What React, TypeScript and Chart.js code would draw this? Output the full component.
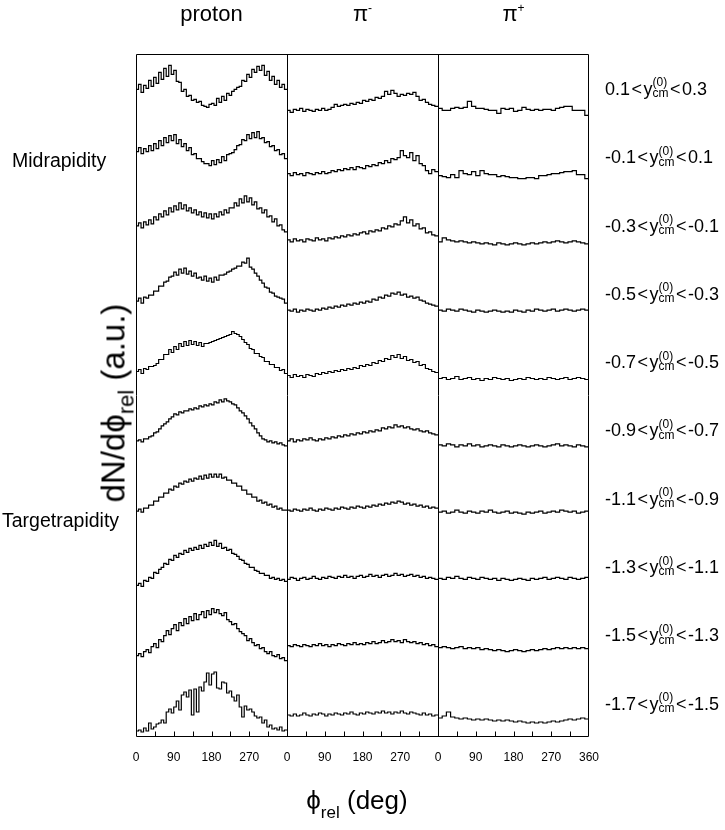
import React, { useEffect, useRef } from "react";
import { Chart, registerables } from "chart.js";

Chart.register(...registerables);

const FONT = '"Liberation Sans", Arial, Helvetica, sans-serif';

// ---------- labels ----------
const PANEL_TITLES = [
  { base: "proton", sup: "" },
  { base: "π", sup: "-" },
  { base: "π", sup: "+" },
];
const Y_LO = ["0.1", "-0.1", "-0.3", "-0.5", "-0.7", "-0.9", "-1.1", "-1.3", "-1.5", "-1.7"];
const Y_HI = ["0.3", "0.1", "-0.1", "-0.3", "-0.5", "-0.7", "-0.9", "-1.1", "-1.3", "-1.5"];
const PANEL_SPAN = 360; // degrees per panel
const X_TICK_STEP = 90;
const X_MINOR_STEP = 45;

// ---------- data: dN/dphi (a.u.), one list per rapidity bin (top to bottom) ----------
const PROTON_ROWS = [
  [33,38,30,37,34,42,36,45,39,50,43,54,46,57,48,52,41,40,31,33,26,27,22,23,20,21,17,16,15,18,19,17,24,20,26,22,29,27,31,33,35,36,42,41,48,45,53,50,56,52,57,47,51,42,46,38,42,35,38,33],
  [39,43,37,42,39,45,40,47,42,50,45,53,48,55,50,56,47,51,44,47,40,43,36,37,32,32,29,27,27,25,30,26,31,28,34,30,36,37,38,41,45,46,51,50,56,52,58,53,59,52,53,48,49,44,45,40,41,36,37,32],
  [33,36,31,37,34,39,35,42,39,45,42,48,44,51,47,53,49,56,50,54,48,51,46,49,44,47,42,46,41,45,40,45,42,47,44,49,46,51,51,56,53,60,56,63,57,61,54,57,50,51,46,49,42,43,37,40,33,34,29,27],
  [26,29,24,30,29,32,32,36,36,41,41,45,46,50,51,55,52,58,54,59,53,56,51,54,49,50,47,51,46,49,45,50,47,52,52,53,55,56,58,59,61,61,65,64,69,60,58,54,51,47,44,40,39,35,34,31,30,29,28,24],
  [24,26,22,27,26,29,29,30,32,36,36,41,41,46,43,49,46,52,49,54,50,55,51,54,50,53,49,52,52,53,54,55,56,57,58,59,60,61,64,62,61,59,56,53,51,47,46,42,42,39,38,34,34,31,31,28,28,25,26,22],
  [23,24,22,25,25,27,28,31,32,35,38,40,42,45,47,50,49,52,51,53,53,55,54,56,55,58,57,59,58,60,59,62,61,64,62,65,63,62,60,59,56,53,51,48,45,41,38,35,31,28,25,24,22,23,21,22,20,21,19,18],
  [21,23,20,24,24,27,27,31,31,35,35,39,39,43,42,46,45,49,48,51,50,53,51,54,53,56,53,57,54,58,55,58,55,58,54,55,52,52,49,49,46,46,42,42,38,38,35,35,31,32,29,30,27,28,25,26,23,24,22,22],
  [15,17,14,20,19,23,22,28,27,31,33,37,36,41,40,45,43,47,46,50,48,52,50,53,51,55,52,56,54,58,55,60,54,57,52,53,50,51,47,46,44,41,40,37,36,33,33,30,29,27,27,25,25,22,23,21,22,20,21,19],
  [13,15,12,17,19,16,22,25,21,29,27,33,38,34,40,44,38,46,43,50,45,52,48,55,49,54,57,51,58,54,60,56,59,55,53,56,49,47,44,45,40,37,35,33,28,30,26,23,24,20,21,17,15,17,13,12,14,10,11,8],
  [6,7,5,9,6,14,8,10,13,14,17,14,25,28,24,30,36,27,42,45,40,47,22,48,25,50,46,55,64,52,63,65,49,48,55,54,44,46,40,36,42,30,20,31,27,28,25,21,19,20,14,17,10,12,8,9,7,10,6,7],
];

const PIMINUS_ROWS = [
  [12,10,13,12,14,11,13,12,11,13,12,14,12,13,15,18,16,17,18,17,19,18,20,19,22,21,23,22,25,24,26,31,28,32,29,26,28,27,29,28,30,26,22,23,20,18,17,16],
  [17,15,18,16,17,15,18,17,16,18,17,19,17,18,20,19,21,20,22,21,23,21,24,23,22,25,24,26,25,28,27,30,28,32,31,33,40,35,33,38,30,35,27,25,20,17,21,19],
  [19,17,20,18,19,17,20,19,18,21,19,20,18,21,20,22,21,23,22,24,23,25,24,26,27,25,28,27,29,28,31,30,33,32,35,34,38,42,36,39,33,35,30,31,26,27,24,23],
  [17,16,18,15,17,16,18,17,16,18,17,19,18,20,19,21,20,22,21,23,22,24,23,25,24,26,25,28,27,30,29,32,31,34,33,35,32,33,30,31,29,30,27,26,24,23,22,21],
  [20,18,21,19,20,18,21,20,19,22,21,23,22,24,23,25,24,26,25,27,26,28,27,30,29,31,30,33,32,35,34,37,36,40,38,41,37,39,35,36,33,34,30,31,27,26,24,23],
  [23,25,22,24,23,25,24,26,24,23,25,24,26,25,27,26,28,27,29,28,30,29,31,30,32,31,33,32,34,33,36,35,37,36,39,37,38,36,37,35,34,35,33,32,33,31,30,29],
  [22,21,23,22,21,23,22,24,22,21,23,22,24,23,22,24,23,25,24,23,25,24,26,25,24,26,25,27,26,28,27,29,28,30,29,31,30,28,29,27,28,26,27,25,26,24,25,24],
  [21,23,22,20,22,23,21,22,24,22,21,23,22,24,23,22,24,23,25,23,24,22,24,25,23,24,26,24,25,23,25,26,24,25,27,25,26,24,25,26,24,25,23,24,22,23,22,21],
  [23,22,24,23,22,24,23,22,24,23,25,23,24,22,24,23,25,24,23,25,24,26,24,25,24,26,25,27,25,26,28,26,27,29,27,28,26,29,27,26,27,25,26,24,25,23,24,22],
  [22,21,23,21,22,24,22,21,23,22,24,23,21,23,22,24,23,22,24,23,25,23,22,24,23,25,24,23,25,24,26,24,25,23,25,24,26,24,23,25,24,23,22,24,22,23,21,22],
];

const PIPLUS_ROWS = [
  [14,12,12,14,15,14,15,21,16,14,14,13,12,12,9,14,13,14,11,12,15,13,12,13,12,13,13,12,14,15,16,16,12,12,12,7],
  [15,14,13,16,13,20,17,16,19,15,20,17,16,16,14,15,14,13,13,12,12,13,13,12,15,15,16,17,17,18,19,19,20,16,16,12],
  [17,21,19,18,17,18,17,16,17,16,15,16,15,14,16,15,14,15,16,15,14,15,16,15,16,17,16,17,18,17,16,17,18,17,16,15],
  [17,16,18,17,16,18,17,16,15,17,16,15,16,17,16,15,16,15,17,16,15,17,16,18,17,16,17,18,16,17,18,17,16,17,18,17],
  [17,18,16,17,19,16,17,18,16,17,15,17,16,18,17,16,17,15,16,17,16,18,17,16,17,16,18,17,16,17,18,16,17,18,17,16],
  [19,18,20,19,17,19,18,20,18,19,17,18,19,18,17,19,18,17,18,19,18,17,18,19,18,17,18,19,20,18,19,18,17,19,18,17],
  [20,21,19,20,22,20,19,21,20,19,21,20,22,20,19,20,21,19,20,19,18,20,19,20,21,19,20,21,20,22,21,20,21,19,20,21],
  [22,21,23,22,24,22,21,23,22,21,23,22,21,22,20,22,21,20,21,22,21,20,22,21,22,23,21,22,23,22,21,23,22,21,22,23],
  [21,22,21,20,21,22,20,21,20,21,19,20,19,18,19,18,17,18,19,18,17,18,19,18,19,20,19,20,21,20,21,20,21,20,21,20],
  [19,21,25,20,19,18,19,18,17,18,17,18,17,16,17,16,17,16,15,16,15,14,15,14,15,14,15,16,15,16,17,18,17,18,19,18],
];

const SPECIES_ROWS = [PROTON_ROWS, PIMINUS_ROWS, PIPLUS_ROWS];
const N_ROWS = 10;
const ROW_STEP = 68.3; // vertical offset between stacked rapidity bins (a.u.)
const X_MAX = PANEL_SPAN * SPECIES_ROWS.length;

// ---------- layout ----------
const W = 725;
const H = 830;
const AREA = { left: 136, right: 589, top: 54, bottom: 737 };
const ROW_PX = (AREA.bottom - AREA.top) / N_ROWS;

function buildDatasets() {
  const ds: any[] = [];
  SPECIES_ROWS.forEach((rows, p) => {
    rows.forEach((vals, r) => {
      const n = vals.length;
      const w = PANEL_SPAN / n;
      const base = (N_ROWS - 1 - r) * ROW_STEP;
      const pts = vals.map((v, i) => ({ x: p * PANEL_SPAN + i * w, y: base + v }));
      pts.push({ x: (p + 1) * PANEL_SPAN, y: base + vals[n - 1] });
      ds.push({
        data: pts,
        stepped: true,
        borderColor: "#000",
        borderWidth: 1.2,
        pointRadius: 0,
        fill: false,
      });
    });
  });
  return ds;
}

const framePlugin = {
  id: "panelFrame",
  afterDatasetsDraw(chart: any) {
    const { ctx, chartArea: a, scales } = chart;
    const xs = scales.x;
    ctx.save();
    ctx.strokeStyle = "#000";
    ctx.lineWidth = 1;
    const L = Math.round(a.left) + 0.5;
    const R = Math.round(a.right) - 0.5;
    const T = Math.round(a.top) + 0.5;
    const B = Math.round(a.bottom) - 0.5;
    ctx.beginPath();
    ctx.rect(L, T, R - L, B - T);
    for (let b = PANEL_SPAN; b < X_MAX; b += PANEL_SPAN) {
      const px = Math.round(xs.getPixelForValue(b)) + 0.5;
      ctx.moveTo(px, T);
      ctx.lineTo(px, B);
    }
    for (let v = X_MINOR_STEP; v < X_MAX; v += X_MINOR_STEP) {
      if (v % PANEL_SPAN === 0) continue;
      const px = Math.round(xs.getPixelForValue(v)) + 0.5;
      ctx.moveTo(px, B);
      ctx.lineTo(px, B - 5);
    }
    ctx.stroke();
    ctx.restore();
  },
};

function Txt({ x, y, size, align, children, style }: any) {
  return (
    <div
      style={{
        position: "absolute",
        left: x,
        top: y - 0.8465 * size,
        fontSize: size,
        lineHeight: `${size}px`,
        whiteSpace: "nowrap",
        transform: align === "center" ? "translateX(-50%)" : undefined,
        ...style,
      }}
    >
      {children}
    </div>
  );
}

function RapLabel({ lo, hi, baseline }: any) {
  return (
    <Txt x={605} y={baseline} size={18}>
      {lo}
      <span style={{ margin: "0 1.5px" }}>&lt;</span>y
      <span style={{ position: "relative", display: "inline-block", width: 16, height: 1 }}>
        <span style={{ position: "absolute", left: 0, bottom: 6.5, fontSize: 12, lineHeight: "12px" }}>(0)</span>
        <span style={{ position: "absolute", left: 0, bottom: -4.3, fontSize: 12, lineHeight: "12px" }}>cm</span>
      </span>
      <span style={{ margin: "0 1.5px" }}>&lt;</span>
      {hi}
    </Txt>
  );
}

export default function App() {
  const ref = useRef<HTMLCanvasElement>(null);

  useEffect(() => {
    const chart = new Chart(ref.current as HTMLCanvasElement, {
      type: "line",
      data: { datasets: buildDatasets() },
      plugins: [framePlugin],
      options: {
        animation: false,
        responsive: false,
        events: [],
        layout: { padding: { left: AREA.left, right: W - AREA.right, top: AREA.top, bottom: 0 } },
        plugins: { legend: { display: false }, tooltip: { enabled: false } },
        scales: {
          x: {
            type: "linear",
            min: 0,
            max: X_MAX,
            grid: { display: false, drawTicks: false },
            border: { display: false },
            ticks: {
              stepSize: X_TICK_STEP,
              autoSkip: false,
              maxRotation: 0,
              padding: 13,
              color: "#000",
              font: { family: FONT, size: 12 },
              callback: (v: any) => (Number(v) === X_MAX ? String(PANEL_SPAN) : String(Number(v) % PANEL_SPAN)),
            },
            afterFit: (s: any) => {
              s.height = H - AREA.bottom;
            },
          },
          y: { display: false, min: 0, max: N_ROWS * ROW_STEP },
        },
      } as any,
    });
    return () => chart.destroy();
  }, []);

  const panelW = (AREA.right - AREA.left) / 3;

  return (
    <div
      style={{
        position: "absolute",
        left: 0,
        top: 0,
        width: W,
        height: H,
        background: "#fff",
        color: "#000",
        fontFamily: FONT,
        overflow: "hidden",
      }}
    >
      <canvas ref={ref} width={W} height={H} style={{ position: "absolute", left: 0, top: 0, width: W, height: H }} />

      {PANEL_TITLES.map((t, i) => (
        <Txt key={i} x={AREA.left + panelW * (i + 0.5)} y={22} size={22} align="center">
          {t.base}
          {t.sup && (
            <span style={{ position: "relative", top: -9, fontSize: 12, lineHeight: 0 }}>{t.sup}</span>
          )}
        </Txt>
      ))}

      {Y_LO.map((lo, r) => (
        <RapLabel key={r} lo={lo} hi={Y_HI[r]} baseline={AREA.top + ROW_PX * (r + 0.5) + 7} />
      ))}

      <Txt x={12} y={168} size={19.5}>Midrapidity</Txt>
      <Txt x={2} y={528} size={19.5}>Targetrapidity</Txt>

      <div
        style={{
          position: "absolute",
          left: 113,
          top: 403,
          transform: "translate(-50%, -50%) rotate(-90deg)",
          fontSize: 33,
          lineHeight: "33px",
          whiteSpace: "nowrap",
        }}
      >
        dN/d{"\u03D5"}
        <span style={{ position: "relative", top: 9, fontSize: 22, lineHeight: 0 }}>rel</span> (a.u.)
      </div>

      <Txt x={357} y={809} size={26} align="center">
        {"\u03D5"}
        <span style={{ position: "relative", top: 9, fontSize: 17, lineHeight: 0 }}>rel</span> (deg)
      </Txt>
    </div>
  );
}
